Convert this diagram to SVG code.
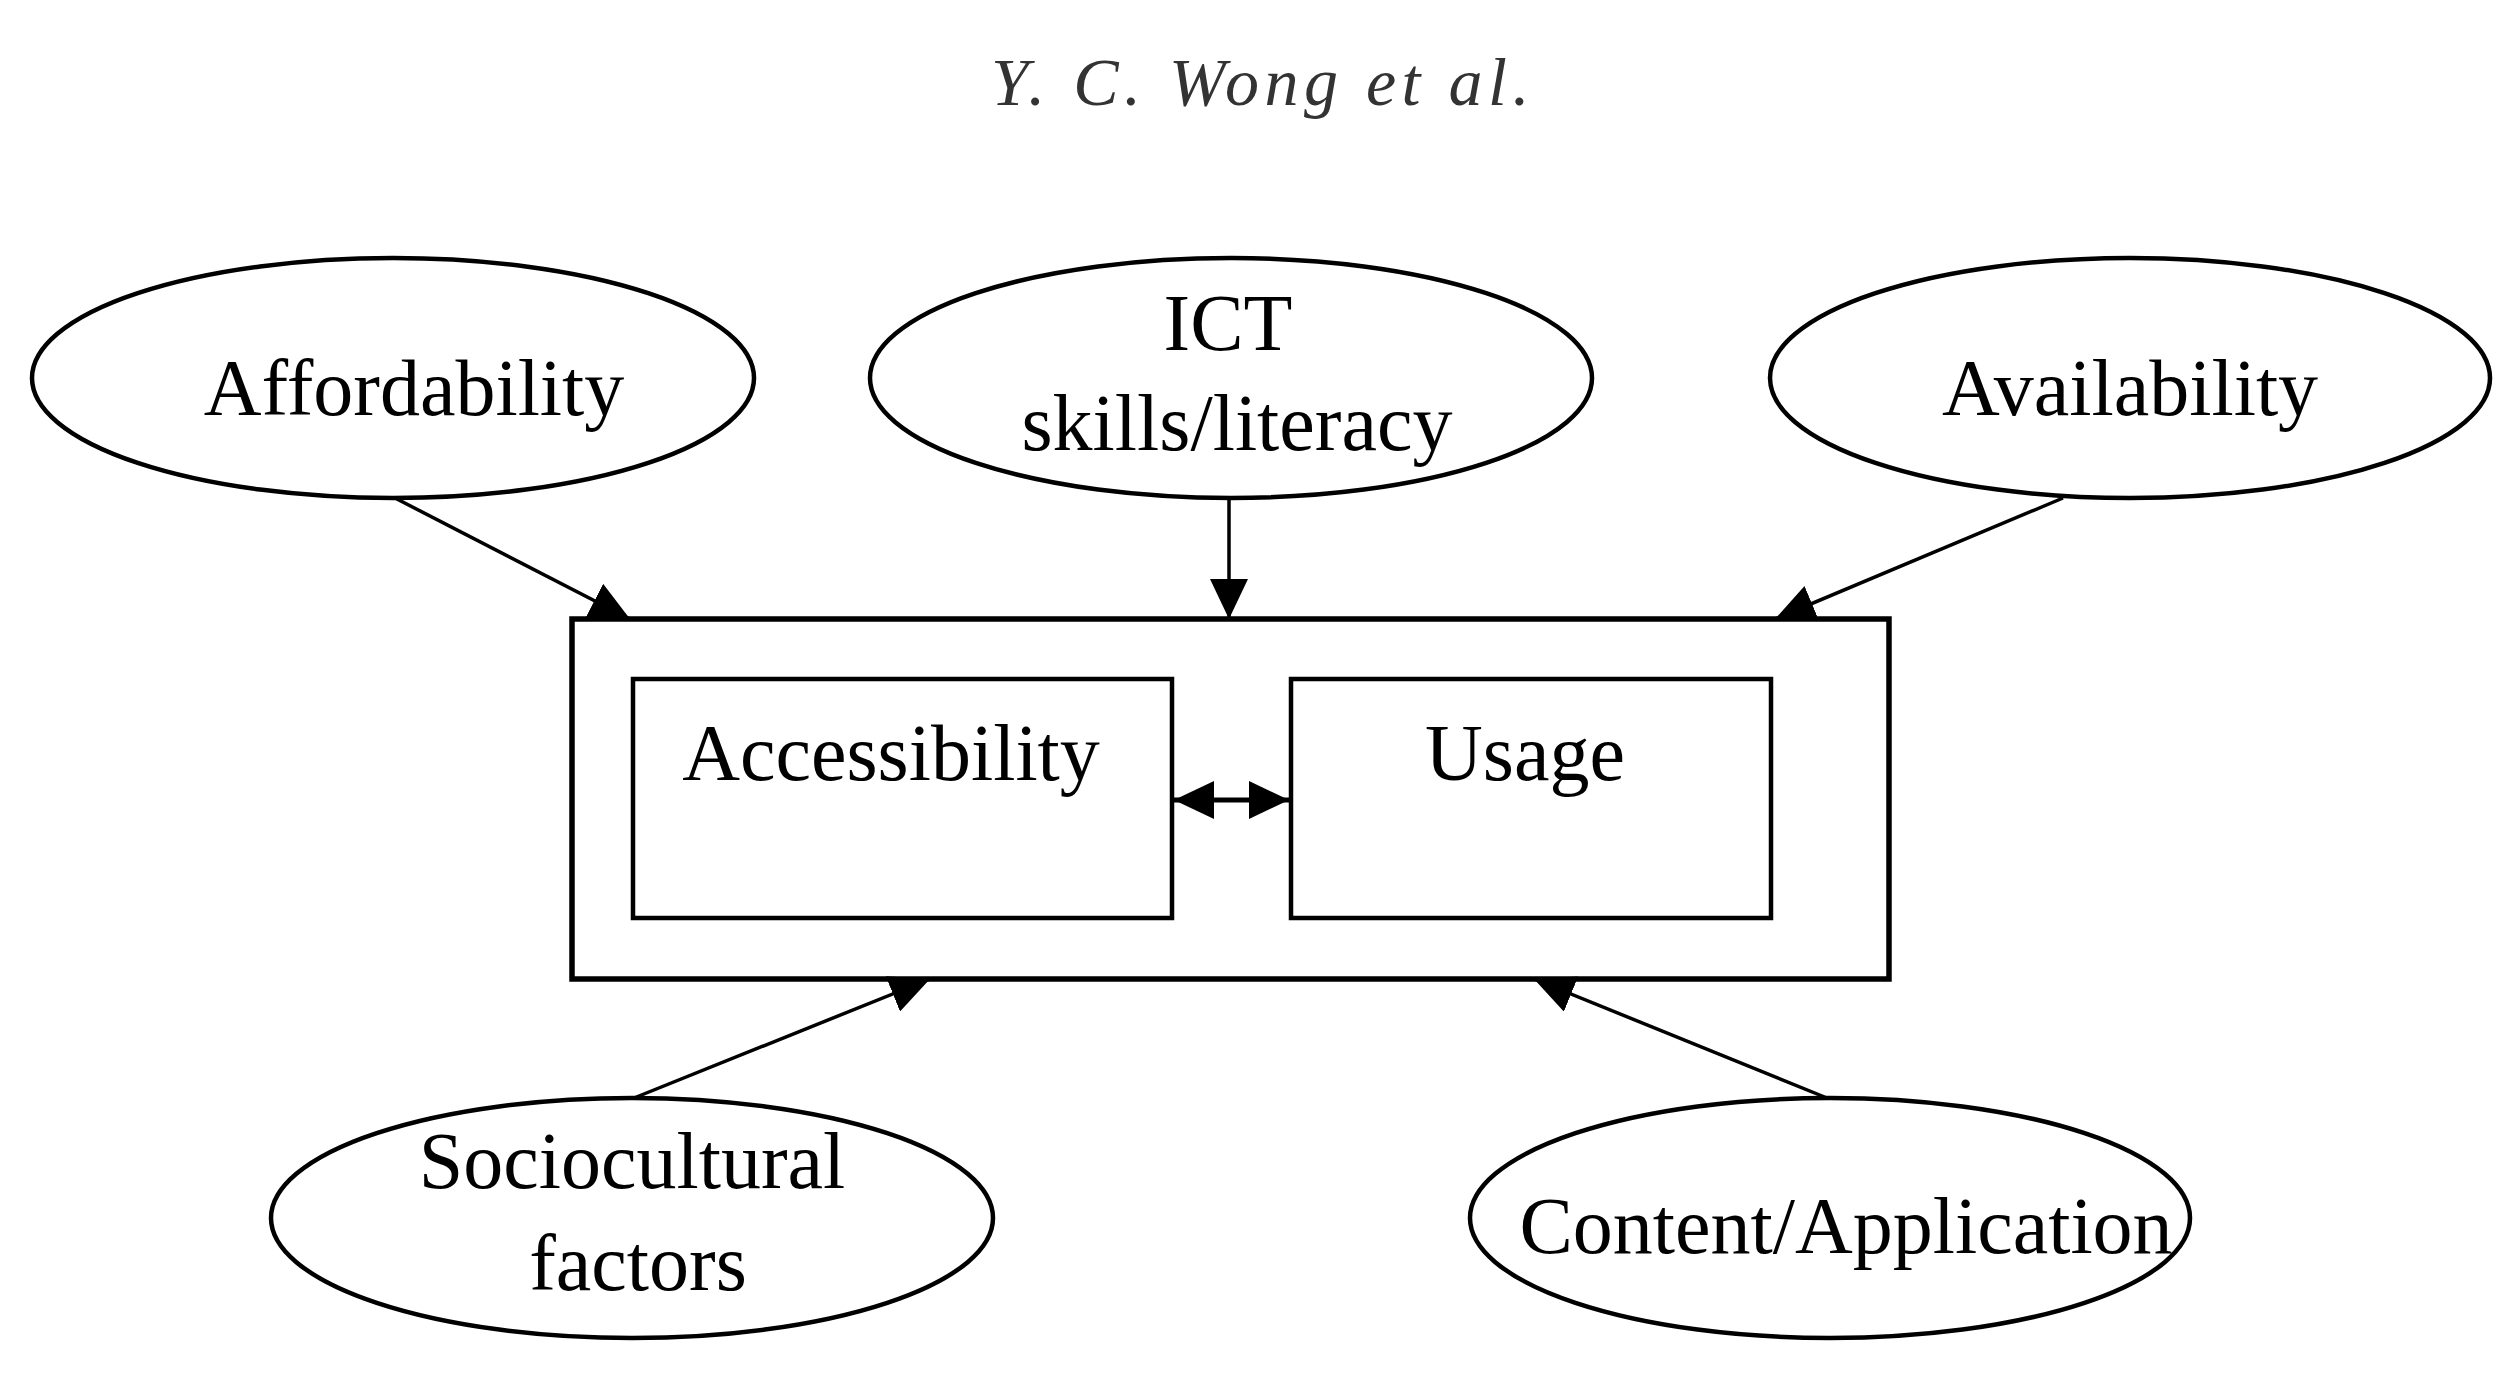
<svg xmlns="http://www.w3.org/2000/svg" width="2493" height="1384" viewBox="0 0 2493 1384">
  <style>
    .ell { fill: #ffffff; stroke: #000000; stroke-width: 4.5; }
    .box { fill: #ffffff; stroke: #000000; stroke-width: 4.5; }
    .outer { fill: #ffffff; stroke: #000000; stroke-width: 5.5; }
    .lbl { font-family: "Liberation Serif", "Times New Roman", serif; font-size: 80px; fill: #000000; text-anchor: middle; }
    .title { font-family: "Liberation Serif", "Times New Roman", serif; font-style: italic; font-size: 68px; letter-spacing: 5.5px; fill: #333333; text-anchor: middle; }
    .conn { stroke: #000000; stroke-width: 3.5; fill: none; }
    .conn2 { stroke: #000000; stroke-width: 5; fill: none; }
  </style>
  <defs>
    <marker id="ah" markerUnits="userSpaceOnUse" markerWidth="40" markerHeight="38" refX="40" refY="19" orient="auto-start-reverse">
      <path d="M0,0 L40,19 L0,38 z" fill="#000000"/>
    </marker>
  </defs>
  <rect width="2493" height="1384" fill="#ffffff"/>

  <text id="title" class="title" x="1263" y="105">Y. C. Wong et al.</text>

  <g id="node-ict-access-usage">
    <rect class="outer" x="572" y="619" width="1317" height="360"/>
  </g>
  <g id="node-accessibility">
    <rect class="box" x="633" y="679" width="539" height="239"/>
    <text class="lbl" x="891" y="780">Accessibility</text>
  </g>
  <g id="node-usage">
    <rect class="box" x="1291" y="679" width="480" height="239"/>
    <text class="lbl" x="1525" y="780">Usage</text>
  </g>

  <g id="node-affordability">
    <ellipse class="ell" cx="393" cy="378" rx="361" ry="120"/>
    <text class="lbl" x="414" y="415">Affordability</text>
  </g>
  <g id="node-ict-skills">
    <ellipse class="ell" cx="1231" cy="378" rx="361" ry="120"/>
    <text class="lbl" x="1228" y="350">ICT</text>
    <text class="lbl" x="1237" y="450">skills/literacy</text>
  </g>
  <g id="node-availability">
    <ellipse class="ell" cx="2130" cy="378" rx="360" ry="120"/>
    <text class="lbl" x="2130" y="415">Availability</text>
  </g>
  <g id="node-sociocultural">
    <ellipse class="ell" cx="632" cy="1218" rx="361" ry="120"/>
    <text class="lbl" x="632" y="1188">Sociocultural</text>
    <text class="lbl" x="638" y="1290">factors</text>
  </g>
  <g id="node-content">
    <ellipse class="ell" cx="1830" cy="1218" rx="360" ry="120"/>
    <text class="lbl" x="1846" y="1253">Content/Application</text>
  </g>

  <g id="connectors">
    <line class="conn" x1="395" y1="498" x2="630" y2="619" marker-end="url(#ah)"/>
    <line class="conn" x1="1229" y1="498" x2="1229" y2="619" marker-end="url(#ah)"/>
    <line class="conn" x1="2063" y1="498" x2="1775" y2="619" marker-end="url(#ah)"/>
    <line class="conn" x1="634" y1="1098" x2="930" y2="979" marker-end="url(#ah)"/>
    <line class="conn" x1="1827" y1="1098" x2="1534" y2="979" marker-end="url(#ah)"/>
    <line class="conn2" x1="1174" y1="800" x2="1289" y2="800" marker-start="url(#ah)" marker-end="url(#ah)"/>
  </g>
</svg>
